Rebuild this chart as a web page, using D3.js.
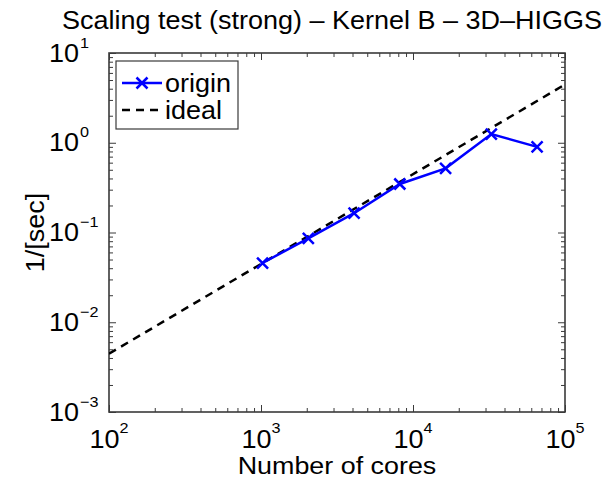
<!DOCTYPE html>
<html><head><meta charset="utf-8">
<script src="https://cdn.jsdelivr.net/npm/d3@7"></script>
<style>
body{margin:0;background:#fff}
text{font-family:"Liberation Sans",Arial,Helvetica,sans-serif;fill:#000}
</style></head>
<body><svg id="chart" width="609" height="478"></svg>
<script>
// ---- data ----
const cores = [1024, 2048, 4096, 8192, 16384, 32768, 65536];
const originVals = [0.0457, 0.086, 0.164, 0.347, 0.519, 1.25, 0.90];
const idealCores = [100, 100000];
const idealVals = [0.00446, 4.46];
const xExponents = [2, 3, 4, 5];
const yExponents = [-3, -2, -1, 0, 1];
const titleText = "Scaling test (strong) \u2013 Kernel B \u2013 3D\u2013HIGGS";
const xTitle = "Number of cores";
const yTitle = "1/[sec]";
const legendNames = ["origin", "ideal"];

// ---- layout ----
const svg = d3.select("#chart");
const L = 109, R = 565, T = 53, B = 412;
const K = 1.08; // horizontal glyph stretch
const FS = 25, SUP = 15;
const x = d3.scaleLog().domain([1e2, 1e5]).range([L, R]);
const y = d3.scaleLog().domain([1e-3, 1e1]).range([B, T]);
const axisColor = "#3a3a3a";

function stxt(px, py, anchor, size, k) {
  return svg.append("g").attr("transform", `translate(${px},${py}) scale(${k || K},1)`)
    .append("text").attr("text-anchor", anchor).attr("font-size", size);
}

svg.append("rect").attr("x", L).attr("y", T).attr("width", R - L).attr("height", B - T).attr("fill", "#fff");

// ticks (inside, all four sides)
const isMajor = v => Math.abs(Math.log10(v) - Math.round(Math.log10(v))) < 1e-9;
function drawTicks(axisGen, tr, scale) {
  const g = svg.append("g").attr("transform", tr);
  g.call(axisGen.tickValues(scale.ticks()).tickFormat("").tickSizeOuter(0));
  g.select(".domain").remove();
  g.selectAll(".tick line").attr("stroke", axisColor).attr("stroke-width", 1)
    .each(function (d) {
      const s = d3.select(this);
      const big = isMajor(d) ? 7 : 4;
      if (s.attr("x2") !== null && +s.attr("x2") !== 0) s.attr("x2", Math.sign(+s.attr("x2")) * big);
      if (s.attr("y2") !== null && +s.attr("y2") !== 0) s.attr("y2", Math.sign(+s.attr("y2")) * big);
    });
}
drawTicks(d3.axisBottom(x).tickSizeInner(-1), `translate(0,${B})`, x);
drawTicks(d3.axisTop(x).tickSizeInner(-1), `translate(0,${T})`, x);
drawTicks(d3.axisLeft(y).tickSizeInner(-1), `translate(${L},0)`, y);
drawTicks(d3.axisRight(y).tickSizeInner(-1), `translate(${R},0)`, y);

svg.append("rect").attr("x", L).attr("y", T).attr("width", R - L).attr("height", B - T)
  .attr("fill", "none").attr("stroke", axisColor).attr("stroke-width", 1.6);

// x tick labels
xExponents.forEach(e => {
  const t = stxt(x(Math.pow(10, e)), B + 36, "middle", FS);
  t.append("tspan").text("10");
  t.append("tspan").attr("dy", -15).attr("font-size", SUP).text(String(e).replace("-", "\u2212"));
});
// y tick labels
yExponents.forEach(e => {
  const py = y(Math.pow(10, e)) + 8.5;
  stxt(79, py, "end", FS).text("10");
  stxt(80, py - 14, "start", SUP).text(String(e).replace("-", "\u2212"));
});

// titles
stxt(332, 29, "middle", FS).text(titleText);
stxt((L + R) / 2, 474, "middle", 24, 1.12).text(xTitle);
svg.append("g").attr("transform", `translate(44,${(T + B) / 2}) rotate(-90) scale(${K},1)`)
  .append("text").attr("text-anchor", "middle").attr("font-size", FS).text(yTitle);

svg.append("clipPath").attr("id", "clip").append("rect")
  .attr("x", L).attr("y", T).attr("width", R - L).attr("height", B - T);

// ideal dashed line
const idealData = idealCores.map((c, i) => [c, idealVals[i]]);
const line = d3.line().x(d => x(d[0])).y(d => y(d[1]));
svg.append("path").attr("clip-path", "url(#clip)").attr("d", line(idealData))
  .attr("fill", "none").attr("stroke", "#000").attr("stroke-width", 2.5).attr("stroke-dasharray", "8,6");

// origin line
const originData = cores.map((c, i) => [c, originVals[i]]);
svg.append("path").attr("d", line(originData))
  .attr("fill", "none").attr("stroke", "#0000ff").attr("stroke-width", 2.5);
const M = 5.5;
function cross(g, cx, cy) {
  g.append("path").attr("d", `M${cx - M},${cy - M}L${cx + M},${cy + M}M${cx - M},${cy + M}L${cx + M},${cy - M}`)
    .attr("stroke", "#0000ff").attr("stroke-width", 2.5).attr("fill", "none");
}
const mg = svg.append("g");
originData.forEach(d => cross(mg, x(d[0]), y(d[1])));

// legend
const lg = svg.append("g");
lg.append("rect").attr("x", 116).attr("y", 61).attr("width", 122).attr("height", 68)
  .attr("fill", "#fff").attr("stroke", axisColor).attr("stroke-width", 1.2);
lg.append("line").attr("x1", 122).attr("x2", 162).attr("y1", 83).attr("y2", 83)
  .attr("stroke", "#0000ff").attr("stroke-width", 2.5);
cross(lg, 142, 83);
lg.append("line").attr("x1", 122).attr("x2", 162).attr("y1", 110).attr("y2", 110)
  .attr("stroke", "#000").attr("stroke-width", 2.5).attr("stroke-dasharray", "8,6");
stxt(165, 83 + 8.5, "start", FS).text(legendNames[0]);
stxt(165, 110 + 8.5, "start", FS).text(legendNames[1]);
</script></body></html>
